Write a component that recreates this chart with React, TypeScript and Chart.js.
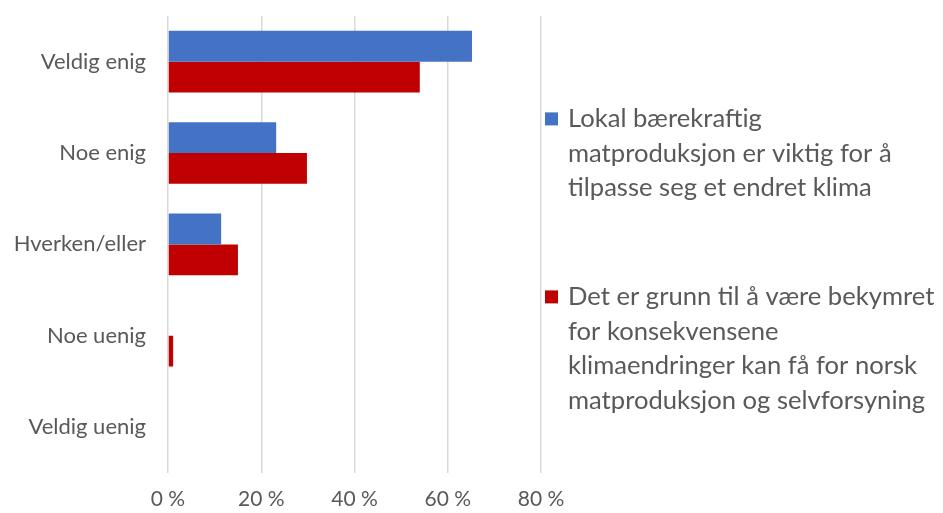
import React, { useEffect, useRef } from "react";
import { Chart, registerables } from "chart.js";

Chart.register(...registerables);

const categories = ["Veldig enig", "Noe enig", "Hverken/eller", "Noe uenig", "Veldig uenig"];
const seriesLocal = [65.2, 23.2, 11.4, 0, 0];
const seriesWorry = [54.0, 29.8, 15.0, 1.1, 0];
const seriesLocalLabel = [
  "Lokal bærekraftig",
  "matproduksjon er viktig for å",
  "tilpasse seg et endret klima",
];
const seriesWorryLabel = [
  "Det er grunn til å være bekymret",
  "for konsekvensene",
  "klimaendringer kan få for norsk",
  "matproduksjon og selvforsyning",
];
const xTicks = [0, 20, 40, 60, 80];

const FONT = "Lato, 'Open Sans', sans-serif";
const TEXT = "#595959";

const legendPlugin = {
  id: "sideLegend",
  afterDraw(chart: any) {
    const ctx = chart.ctx;
    const area = chart.chartArea;
    const cy = (area.top + area.bottom) / 2;
    const lineH = 34.5;
    const markerX = area.right + 4;
    const textX = area.right + 27;
    const starts = [cy - 125.5, cy + 52.5];
    ctx.save();
    ctx.font = `25.6px ${FONT}`;
    ctx.textBaseline = "middle";
    ctx.textAlign = "left";
    chart.data.datasets.forEach((ds: any, i: number) => {
      const lines: string[] = ds.legendLines;
      const y0 = starts[i];
      ctx.fillStyle = ds.backgroundColor;
      ctx.fillRect(markerX, y0 - 6.5, 13, 13);
      ctx.fillStyle = TEXT;
      lines.forEach((ln, k) => ctx.fillText(ln, textX, y0 + k * lineH));
    });
    ctx.restore();
  },
};

export default function App() {
  const ref = useRef<HTMLCanvasElement>(null);
  useEffect(() => {
    const chart = new Chart(ref.current!, {
      type: "bar",
      data: {
        labels: categories,
        datasets: [
          {
            label: seriesLocalLabel.join(" "),
            legendLines: seriesLocalLabel,
            data: seriesLocal,
            backgroundColor: "#4472C4",
            categoryPercentage: 0.675,
            barPercentage: 1,
          } as any,
          {
            label: seriesWorryLabel.join(" "),
            legendLines: seriesWorryLabel,
            data: seriesWorry,
            backgroundColor: "#C00000",
            categoryPercentage: 0.675,
            barPercentage: 1,
          } as any,
        ],
      },
      options: {
        indexAxis: "y",
        animation: false,
        responsive: false,
        layout: { padding: { top: 16, right: 402, bottom: -13, left: 0 } },
        plugins: { legend: { display: false }, tooltip: { enabled: false } },
        scales: {
          x: {
            min: 0,
            max: 80,
            afterBuildTicks: (axis: any) => {
              axis.ticks = xTicks.map((v) => ({ value: v }));
            },
            ticks: {
              callback: (v: any) => `${v} %`,
              color: TEXT,
              font: { family: FONT, size: 21 },
              padding: 14,
            },
            grid: { color: "#d9d9d9", lineWidth: 1.5, drawTicks: false },
            border: { display: false },
          },
          y: {
            afterFit: (axis: any) => {
              axis.width = 168;
              axis.paddingTop = 0;
              axis.paddingBottom = 0;
            },
            ticks: {
              color: TEXT,
              font: { family: FONT, size: 22, lineHeight: 0.01 },
              padding: 22,
            },
            grid: { display: false, drawTicks: false },
            border: { display: false },
          },
        },
      },
      plugins: [legendPlugin],
    });
    return () => chart.destroy();
  }, []);
  return (
    <div style={{ position: "absolute", left: 0, top: 0, width: 943, height: 513, background: "#fff" }}>
      <canvas ref={ref} width={943} height={513} style={{ width: 943, height: 513 }} />
    </div>
  );
}
